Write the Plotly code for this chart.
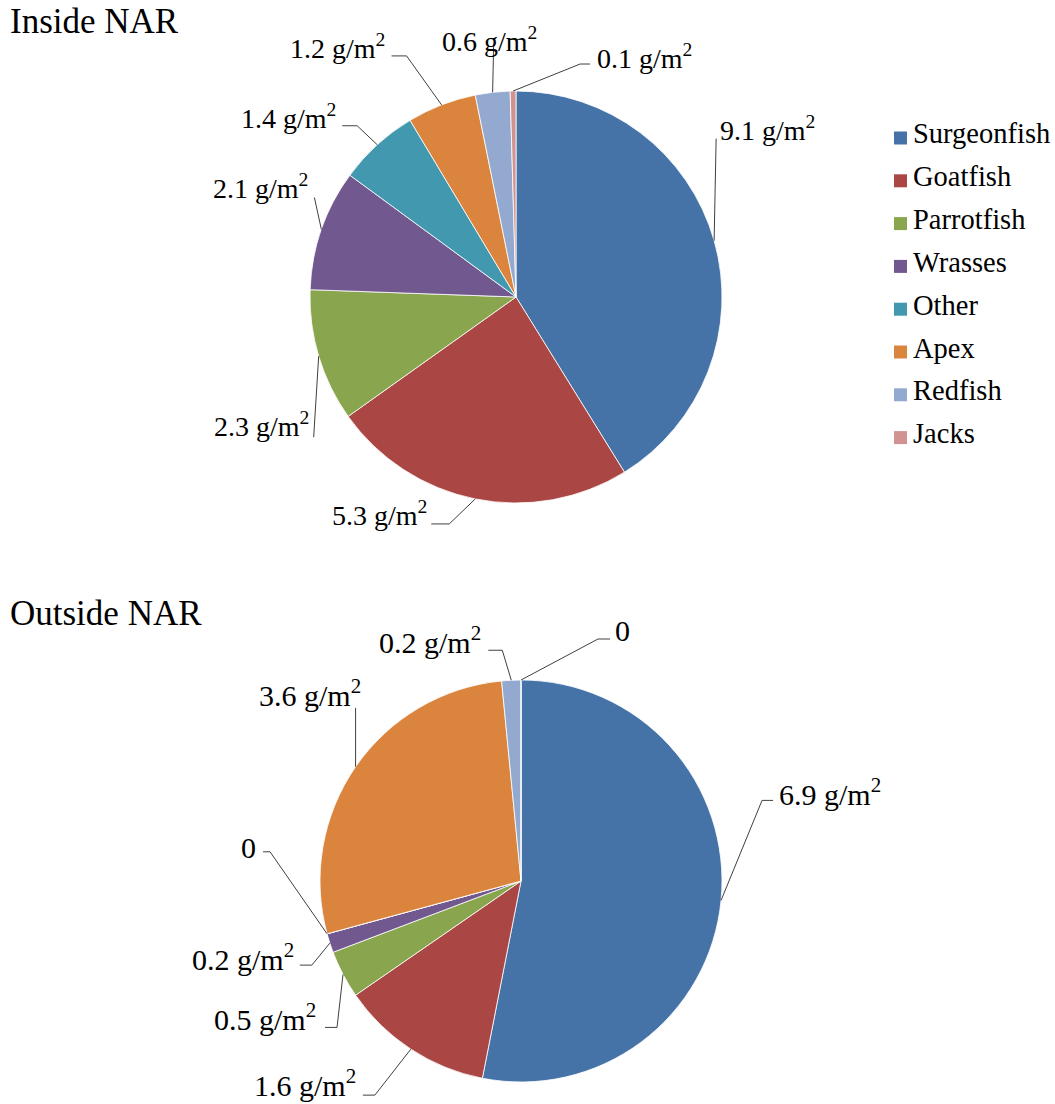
import math
import plotly.graph_objects as go

# Fish groups and mean biomass (g/m²) inside and outside the NAR
groups = ["Surgeonfish", "Goatfish", "Parrotfish", "Wrasses", "Other", "Apex", "Redfish", "Jacks"]
inside_biomass = [9.1, 5.3, 2.3, 2.1, 1.4, 1.2, 0.6, 0.1]
outside_biomass = [6.9, 1.6, 0.5, 0.2, 0.0, 3.6, 0.2, 0.0]
colors = ["#4572A7", "#AA4643", "#89A54E", "#71588F", "#4198AF", "#DB843D", "#93A9CF", "#D19392"]

W, H = 1055, 1104
FONT = "Times New Roman, Liberation Serif, serif"

# Pie boxes in pixels: (left, top, size)
inside_box = (310, 91, 412)
outside_box = (320, 680, 402)

# Label placement per slice: elbow offset from the slice edge (dx, dy),
# horizontal tick length, text side, and text offset from the line end
inside_place = [
    ((2, -102), 0, "left", (2, -10)),
    ((-26, 25), 18, "right", (-2, -10)),
    ((-5, 81), 0, "right", (-3, -13)),
    ((-7, -32), 0, "right", (-4, -11)),
    ((-20, -19), 15, "right", (-4, -9)),
    ((-35, -49), 15, "right", (-5, -9)),
    ((1, -46), 0, "center", (-4, -7)),
    ((67, -27), 10, "left", (5, -8)),
]
outside_place = [
    ((41, -100), 11, "left", (4, -8)),
    ((-36, 46), 12, "right", (-5, -12)),
    ((-6, 53), 12, "right", (-7, -10)),
    ((-18, 22), 12, "right", (-4, -8)),
    ((-57, -82), 7, "right", (-5, -4)),
    ((0, -59), 0, "right", (7, -15)),
    ((-9, -30), 14, "right", (-5, -10)),
    ((77, -41), 12, "left", (3, -9)),
]


def px_x(x):
    return x / W


def px_y(y):
    return 1 - y / H


def box_domain(box):
    left, top, size = box
    return dict(x=[px_x(left), px_x(left + size)], y=[px_y(top + size), px_y(top)])


def fmt(v):
    return "0" if v == 0 else f"{v:.1f} g/m<sup>2</sup>"


fig = go.Figure()
for values, box in ((inside_biomass, inside_box), (outside_biomass, outside_box)):
    fig.add_trace(go.Pie(
        labels=groups, values=values, sort=False, direction="clockwise", rotation=0,
        marker=dict(colors=colors, line=dict(color="white", width=0.8)),
        textinfo="none", hoverinfo="label+value", domain=box_domain(box),
        showlegend=False,
    ))

shapes = []
annotations = []


def add_labels(values, box, placement, font_size):
    left, top, size = box
    cx, cy, r = left + size / 2, top + size / 2, size / 2
    total = sum(values)
    cum = 0.0
    for v, ((ex, ey), tick, side, (tx, ty)) in zip(values, placement):
        mid = (cum + v / 2) / total * 2 * math.pi
        cum += v
        x0 = cx + r * math.sin(mid)
        y0 = cy - r * math.cos(mid)
        x1, y1 = x0 + ex, y0 + ey
        x2 = x1 + tick if side == "left" else x1 - tick
        path = f"M {px_x(x0)},{px_y(y0)} L {px_x(x1)},{px_y(y1)} L {px_x(x2)},{px_y(y1)}"
        shapes.append(dict(type="path", path=path, xref="paper", yref="paper",
                           line=dict(color="#404040", width=1)))
        annotations.append(dict(
            x=px_x(x2 + tx), y=px_y(y1 + ty), xref="paper", yref="paper",
            text=fmt(v), showarrow=False, xanchor=side, yanchor="middle",
            font=dict(family=FONT, size=font_size, color="black"),
        ))


add_labels(inside_biomass, inside_box, inside_place, 28)
add_labels(outside_biomass, outside_box, outside_place, 30)

# Titles
for text, y in (("Inside NAR", 22), ("Outside NAR", 613)):
    annotations.append(dict(x=px_x(8), y=px_y(y), xref="paper", yref="paper", text=text,
                            showarrow=False, xanchor="left", yanchor="middle",
                            font=dict(family=FONT, size=35, color="black")))

# Legend: colour key for the fish groups
legend_left, legend_top, legend_step, key = 894, 134, 42.8, 13
for i, (name, color) in enumerate(zip(groups, colors)):
    yc = legend_top + i * legend_step
    shapes.append(dict(type="rect", xref="paper", yref="paper",
                       x0=px_x(legend_left), x1=px_x(legend_left + key),
                       y0=px_y(yc + 4 + key / 2), y1=px_y(yc + 4 - key / 2),
                       fillcolor=color, line=dict(width=0)))
    annotations.append(dict(x=px_x(legend_left + key + 4), y=px_y(yc), xref="paper", yref="paper",
                            text=name, showarrow=False, xanchor="left", yanchor="middle",
                            font=dict(family=FONT, size=28.5, color="black")))

fig.update_layout(
    width=W, height=H,
    margin=dict(l=0, r=0, t=0, b=0),
    paper_bgcolor="white", plot_bgcolor="white",
    shapes=shapes, annotations=annotations,
    showlegend=False,
)

fig.write_html("out.html")
